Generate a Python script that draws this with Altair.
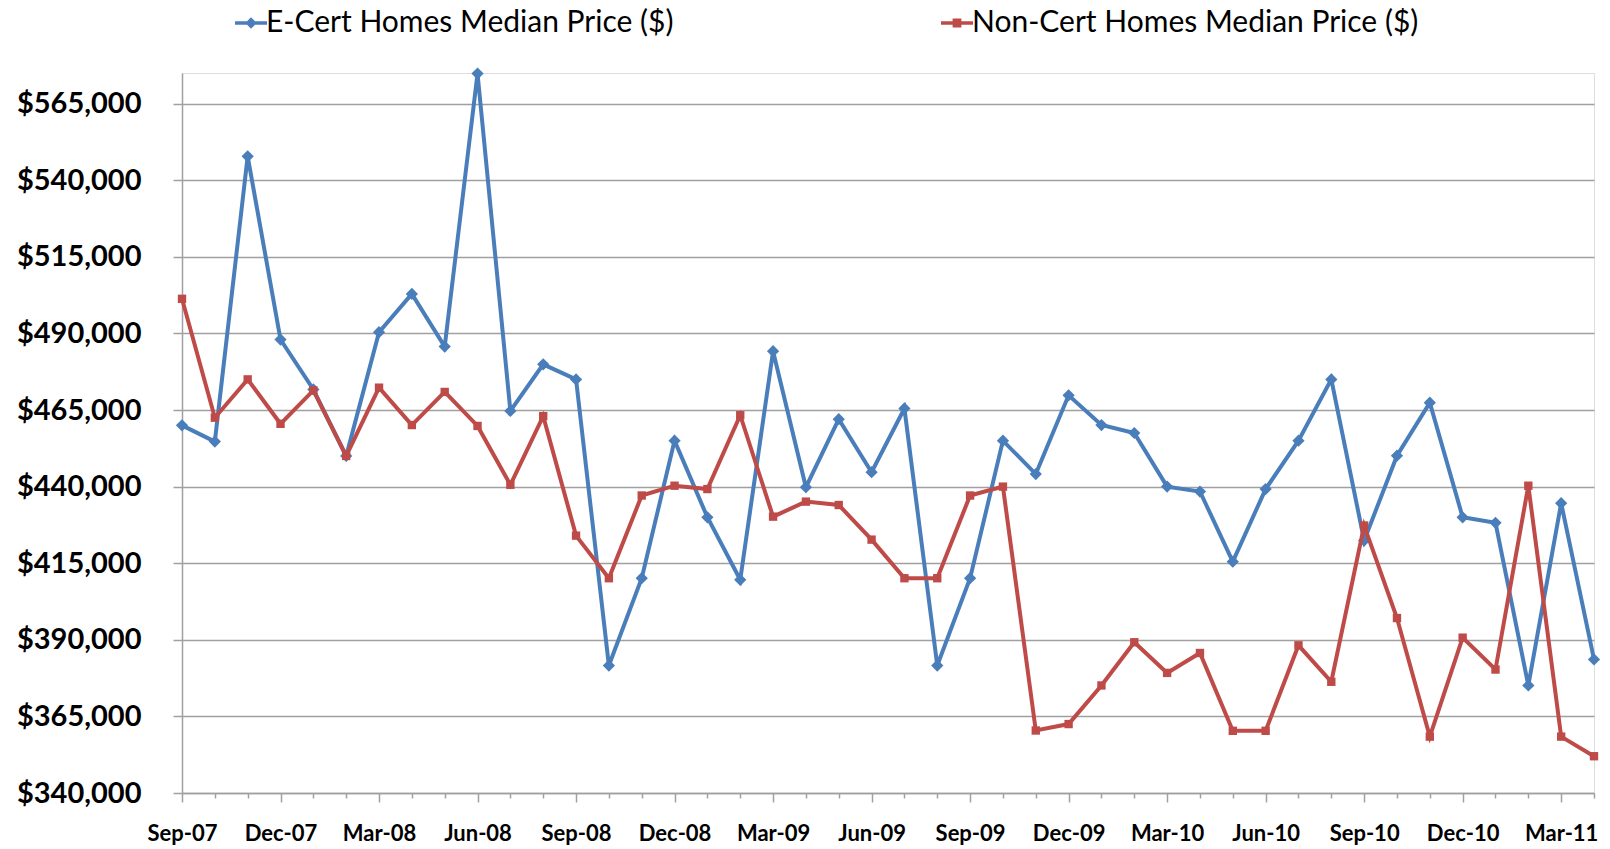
import altair as alt
import pandas as pd

months = ["Sep-07", "Oct-07", "Nov-07", "Dec-07",
          "Jan-08", "Feb-08", "Mar-08", "Apr-08", "May-08", "Jun-08",
          "Jul-08", "Aug-08", "Sep-08", "Oct-08", "Nov-08", "Dec-08",
          "Jan-09", "Feb-09", "Mar-09", "Apr-09", "May-09", "Jun-09",
          "Jul-09", "Aug-09", "Sep-09", "Oct-09", "Nov-09", "Dec-09",
          "Jan-10", "Feb-10", "Mar-10", "Apr-10", "May-10", "Jun-10",
          "Jul-10", "Aug-10", "Sep-10", "Oct-10", "Nov-10", "Dec-10",
          "Jan-11", "Feb-11", "Mar-11", "Apr-11"]

ecert = [460000, 454700, 547800, 488000,
         471700, 450000, 490400, 502900, 485700, 574800,
         464700, 479900, 475000, 381600, 410100, 455000,
         430000, 409600, 484200, 439800, 462000, 444700,
         465500, 381600, 410100, 455000, 444100, 469800,
         460100, 457500, 440000, 438400, 415500, 439200,
         455000, 475000, 422400, 450100, 467400, 430000,
         428200, 375100, 434600, 383600]

noncert = [501300, 462500, 475000, 460500,
           471400, 450000, 472300, 460100, 470900, 459800,
           440600, 463000, 424000, 410100, 437100, 440300,
           439200, 463300, 430200, 435100, 434000, 422700,
           410100, 410100, 437100, 440000, 360400, 362500,
           375100, 389200, 379200, 385700, 360300, 360300,
           388200, 376300, 427300, 397100, 358400, 390700,
           380300, 440300, 358400, 352000]

y_ticks = [340000, 365000, 390000, 415000, 440000, 465000, 490000, 515000, 540000, 565000]

name_e = "E-Cert Homes Median Price ($)"
name_n = "Non-Cert Homes Median Price ($)"
blue = "#4A7EBB"
red = "#BE4B48"
grey = "#A0A0A0"

df_e = pd.DataFrame({"month": months, "price": ecert, "series": name_e})
df_n = pd.DataFrame({"month": months, "price": noncert, "series": name_n})

major_test = "indexof(['Sep','Dec','Mar','Jun'], slice(datum.value, 0, 3)) >= 0"

x_enc = alt.X(
    "month:O", sort=months,
    scale=alt.Scale(type="point", padding=0),
    axis=alt.Axis(
        title=None, labelAngle=0, labelFont="Lato", labelFontWeight="bold",
        labelFontSize=22, labelColor="black", labelOverlap=False,
        labelExpr="indexof(['Sep','Dec','Mar','Jun'], slice(datum.value, 0, 3)) >= 0 ? datum.label : ''",
        tickSize={"condition": {"test": major_test, "value": 9}, "value": 5},
        tickColor=grey, tickWidth=1.5, domainColor=grey, domainWidth=1.5,
        labelPadding=21, grid=False,
    ),
)

y_enc = alt.Y(
    "price:Q",
    scale=alt.Scale(domain=[340000, 575000], nice=False, zero=False),
    axis=alt.Axis(
        title=None, values=y_ticks, format="$,.0f", labelFont="Lato",
        labelFontWeight="bold", labelFontSize=29, labelColor="black",
        tickSize=9, tickColor=grey, tickWidth=1.5, domainColor=grey,
        domainWidth=1.5, labelPadding=32, grid=True, gridColor=grey,
        gridWidth=1.5,
    ),
)


def series_layer(df, name, color, shape, size, legend_path, legend_x):
    return alt.Chart(df).mark_line(
        strokeWidth=4,
        point=alt.OverlayMarkDef(shape=shape, size=size, filled=True, color=color),
    ).encode(
        x=x_enc,
        y=y_enc,
        color=alt.Color(
            "series:N",
            scale=alt.Scale(domain=[name], range=[color]),
            legend=alt.Legend(
                title=None, orient="none", legendX=legend_x, legendY=-65,
                direction="horizontal", padding=0,
                symbolType=legend_path, symbolSize=256, symbolStrokeWidth=3.5,
                symbolFillColor=color, symbolStrokeColor=color,
                labelFont="Lato", labelFontSize=30, labelColor="black",
                labelOffset=0, labelLimit=600,
            ),
        ),
    )


blue_layer = series_layer(df_e, name_e, blue, "diamond", 150,
                          "M-2,0H2M0,-0.4L0.4,0L0,0.4L-0.4,0Z", 54)
red_layer = series_layer(df_n, name_n, red, "square", 70,
                         "M-2,0H2M-0.33,-0.33H0.33V0.33H-0.33Z", 760)

chart = alt.layer(blue_layer, red_layer).resolve_scale(
    color="independent"
).properties(
    width=1412, height=720,
    autosize=alt.AutoSizeParams(type="none"),
    padding={"left": 174, "top": 65, "right": 8, "bottom": 60},
).configure_view(stroke=None).configure(background="white")

chart.save("out.html", embed_options={"renderer": "svg", "actions": False})
